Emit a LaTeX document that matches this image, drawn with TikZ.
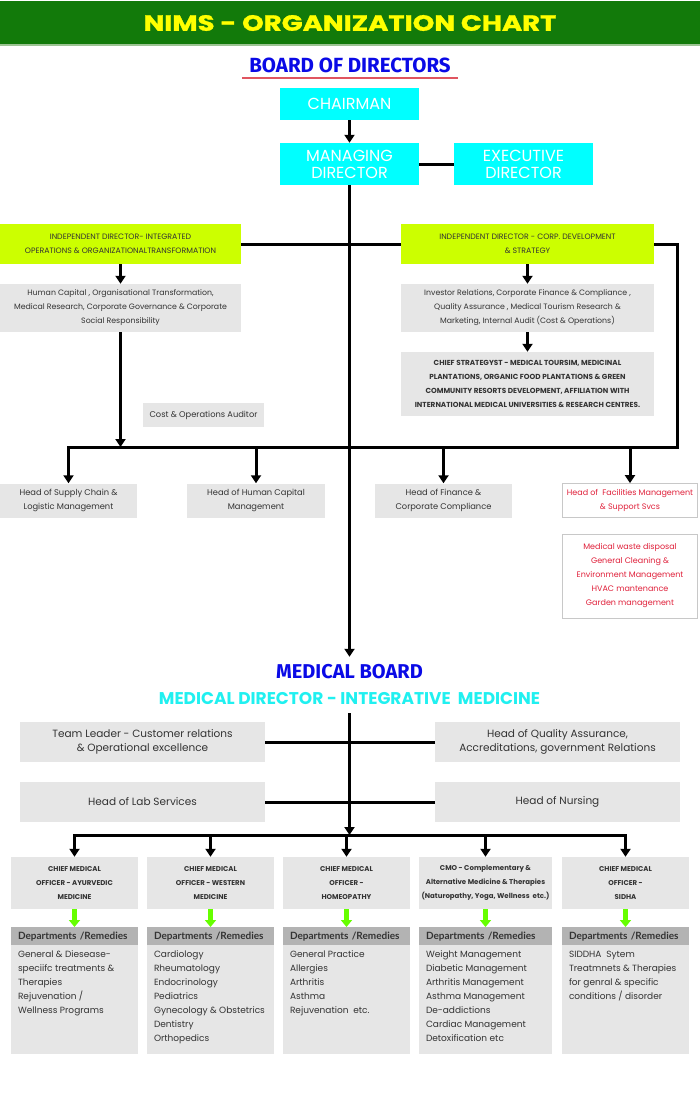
\documentclass[tikz,border=0pt]{standalone}
\usepackage{fontspec}
\usepackage{graphicx}
\setmainfont{Poppins}
\newfontfamily\headfont{Fira Sans}
\newfontfamily\deptfont{Lato}
\usetikzlibrary{arrows.meta,positioning}

\definecolor{bandgreen}{HTML}{127A0A}
\definecolor{bandline}{HTML}{9CC493}
\definecolor{titleyellow}{HTML}{FFFF00}
\definecolor{boardblue}{HTML}{0A0AE6}
\definecolor{underred}{HTML}{E05560}
\definecolor{cyanbox}{HTML}{00FFFF}
\definecolor{mdcyan}{HTML}{20F0F0}
\definecolor{limebox}{HTML}{CCFF00}
\definecolor{boxgray}{HTML}{E6E6E6}
\definecolor{headgray}{HTML}{B3B3B3}
\definecolor{framegray}{HTML}{C8C8C8}
\definecolor{facred}{HTML}{E0203A}
\definecolor{textgray}{HTML}{333333}
\definecolor{arrowgreen}{HTML}{66FF00}

\begin{document}
\begin{tikzpicture}[x=1pt,y=-1pt,
  conn/.style={line width=3pt},
  arr/.style={conn,-{Triangle[width=10pt,length=8pt]}},
  arrtwo/.style={conn,{Triangle[width=10pt,length=8pt]}-{Triangle[width=10pt,length=8pt]}},
  greenarr/.style={draw=arrowgreen,line width=5pt,-{Triangle[width=11pt,length=7pt]}},
  cyanbox/.style={fill=cyanbox,text=white,inner sep=0pt,align=center,
    minimum width=139pt,font=\fontsize{16}{17}\selectfont},
  limebox/.style={fill=limebox,text=textgray,inner sep=0pt,align=center,
    minimum height=40pt,font=\fontsize{7.8}{14}\selectfont},
  graybox/.style={fill=boxgray,text=textgray,inner sep=0pt,align=center,
    font=\fontsize{7.8}{14}\selectfont},
  bigbox/.style={graybox,minimum width=245pt,minimum height=40pt,
    font=\fontsize{10.5}{14}\selectfont},
  cmobox/.style={graybox,minimum height=52pt,font=\fontsize{7}{14}\selectfont\bfseries},
  depthead/.style={fill=headgray,text=textgray,inner sep=0pt,inner xsep=7pt,
    minimum height=18pt,align=left,font=\deptfont\fontsize{10}{12}\selectfont\bfseries},
  deptbody/.style={fill=boxgray,text=textgray,inner sep=0pt,inner xsep=7pt},
  redbox/.style={draw=framegray,line width=0.8pt,fill=white,text=facred,inner sep=0pt,
    align=center,minimum width=135pt,font=\fontsize{8}{14}\selectfont}]
  \useasboundingbox (0,0) rectangle (700,1103);
  % Kopfzeile mit Titel:
  \node[fill=bandgreen,text=titleyellow,minimum width=700pt,minimum height=44pt,inner sep=0pt,
    font=\fontsize{22}{24}\selectfont\bfseries\addfontfeature{FakeBold=1.2}] (title) at (350,23)
    {\scalebox{1.25}[1]{NIMS - ORGANIZATION CHART}};
  \draw[bandline,line width=1.5pt] (title.south west) -- (title.south east);
  % Vorstand:
  \node[text=boardblue,font=\headfont\fontsize{20.5}{22}\selectfont\bfseries] (board) at (350,65) {BOARD OF DIRECTORS};
  \draw[underred,line width=2pt] (242,78) -- (458,78);
  \node[cyanbox,minimum height=32pt] (chair) at (349.5,104) {CHAIRMAN};
  \node[cyanbox,minimum height=42pt] (md) at (349.5,164) {MANAGING\\DIRECTOR};
  \node[cyanbox,minimum height=42pt] (ed) at (523.5,164) {EXECUTIVE\\DIRECTOR};
  % unabhaengige Direktoren und ihre Bereiche:
  \node[limebox,minimum width=241pt] (idl) at (120.5,244) {INDEPENDENT DIRECTOR- INTEGRATED\\OPERATIONS \& ORGANIZATIONALTRANSFORMATION};
  \node[limebox,minimum width=253pt] (idr) at (527.5,244) {INDEPENDENT DIRECTOR - CORP. DEVELOPMENT\\\& STRATEGY};
  \node[graybox,minimum width=241pt,minimum height=48pt] (hcl) at (120.5,308) {Human Capital , Organisational Transformation,\\Medical Research, Corporate Governance \& Corporate\\Social Responsibility};
  \node[graybox,minimum width=253pt,minimum height=48pt] (irr) at (527.5,308) {Investor Relations, Corporate Finance \& Compliance ,\\Quality Assurance , Medical Tourism Research \&\\Marketing, Internal Audit (Cost \& Operations)};
  \node[graybox,minimum width=253pt,minimum height=64pt,font=\fontsize{7.3}{14}\selectfont\bfseries] (cs) at (527.5,384) {CHIEF STRATEGYST - MEDICAL TOURSIM, MEDICINAL\\PLANTATIONS, ORGANIC FOOD PLANTATIONS \& GREEN\\COMMUNITY RESORTS DEVELOPMENT, AFFILIATION WITH\\INTERNATIONAL MEDICAL UNIVERSITIES \& RESEARCH CENTRES.};
  \node[graybox,minimum width=121pt,minimum height=24pt,font=\fontsize{8.3}{14}\selectfont] (cost) at (203.5,415) {Cost \& Operations Auditor};
  % Abteilungsleiter:
  \node[graybox,minimum width=137pt,minimum height=34pt,font=\fontsize{8.3}{14}\selectfont] (sc) at (68.5,500.5) {Head of Supply Chain \&\\Logistic Management};
  \node[graybox,minimum width=138pt,minimum height=34pt,font=\fontsize{8.3}{14}\selectfont] (hc) at (256,500.5) {Head of Human Capital\\Management};
  \node[graybox,minimum width=137pt,minimum height=34pt,font=\fontsize{8.3}{14}\selectfont] (fin) at (443.5,500.5) {Head of Finance \&\\Corporate Compliance};
  \node[redbox,minimum height=34pt] (fac) at (630,500.5) {Head of\ \ Facilities Management\\\& Support Svcs};
  \node[redbox,minimum height=84pt] (facs) at (630,576) {Medical waste disposal\\General Cleaning \&\\Environment Management\\HVAC mantenance\\Garden management};
  % Medizinischer Vorstand:
  \node[anchor=base,text=boardblue,text height=14pt,text depth=0pt,inner ysep=7pt,
    font=\headfont\fontsize{20}{22}\selectfont\bfseries] (mb) at (349.5,678) {MEDICAL BOARD};
  \node[anchor=base,text=mdcyan,text height=12pt,text depth=0pt,inner ysep=9pt,
    font=\fontsize{17}{19}\selectfont\bfseries] (mdir) at (349.5,704) {MEDICAL DIRECTOR - INTEGRATIVE\ \ MEDICINE};
  \node[bigbox] (tl) at (142.5,742) {Team Leader - Customer relations\\\& Operational excellence};
  \node[bigbox] (qa) at (557.5,742) {Head of Quality Assurance,\\Accreditations, government Relations};
  \node[bigbox] (lab) at (142.5,802) {Head of Lab Services};
  \node[bigbox] (nur) at (557.5,802) {Head of Nursing};
  % Verbindungen oben:
  \draw[arr] (chair) -- (md);
  \draw[conn] (md) -- (ed);
  \draw[arr] (md.south) -- (mb.north);
  \draw[conn] (idl) -- (idr);
  \coordinate (busR) at (677,447);
  \coordinate (busL) at (68.5,447);
  \draw[arr] (idr.east) -- (idr.east -| busR) -- (busR) -- (busL) -- (sc.north);
  \foreach \n in {hc,fin,fac} \draw[arr] (\n.north |- busL) -- (\n.north);
  \draw[arr] (idl) -- (hcl);
  \draw[arr] (hcl.south) -- (hcl.south |- busL);
  \draw[arr] (idr) -- (irr);
  \draw[arr] (irr) -- (cs);
  % Verbindungen unten:
  \draw[conn] (tl) -- (qa);
  \draw[conn] (lab) -- (nur);
  \coordinate (bustwo) at (349.5,835);
  \draw[arr] (mdir.south) -- (bustwo);
  % Spalten der Chefaerzte:
  \foreach \n/\x/\w/\head/\body in {
    1/74.5/127/{CHIEF MEDICAL\\OFFICER - AYURVEDIC\\MEDICINE}/{General \& Diesease-\\speciifc treatments \&\\Therapies\\Rejuvenation /\\Wellness Programs},
    2/210.5/127/{CHIEF MEDICAL\\OFFICER - WESTERN\\MEDICINE}/{Cardiology\\Rheumatology\\Endocrinology\\Pediatrics\\Gynecology \& Obstetrics\\Dentistry\\Orthopedics},
    3/346.5/127/{CHIEF MEDICAL\\OFFICER -\\HOMEOPATHY}/{General Practice\\Allergies\\Arthritis\\Asthma\\Rejuvenation\ \ etc.},
    4/485.5/133/{CMO - Complementary \&\\Alternative Medicine \& Therapies\\(Naturopathy, Yoga, Wellness\ \ etc.)}/{Weight Management\\Diabetic Management\\Arthritis Management\\Asthma Management\\De-addictions\\Cardiac Management\\Detoxification etc},
    5/625.5/127/{CHIEF MEDICAL\\OFFICER -\\SIDHA}/{SIDDHA\ \ Sytem\\Treatmnets \& Therapies\\for genral \& specific\\conditions / disorder}} {
    \pgfmathsetmacro\tw{\w-14}
    \node[cmobox,minimum width=\w pt] (c\n) at (\x,883) {\head};
    \node[depthead,text width=\tw pt,anchor=north] (h\n) at (\x,927) {Departments /Remedies};
    \node[deptbody,anchor=north] (b\n) at (\x,945)
      {\begin{minipage}[c][109pt][t]{\tw pt}\raggedright\fontsize{9}{14}\selectfont\rule{0pt}{12pt}\body\end{minipage}};
    \draw[greenarr] (c\n.south) -- (h\n.north);
  }
  \draw[arrtwo] (c1.north) -- (c1.north |- bustwo) -- (c5.north |- bustwo) -- (c5.north);
  \foreach \n in {2,3,4} \draw[arr] (c\n.north |- bustwo) -- (c\n.north);
\end{tikzpicture}
\end{document}
